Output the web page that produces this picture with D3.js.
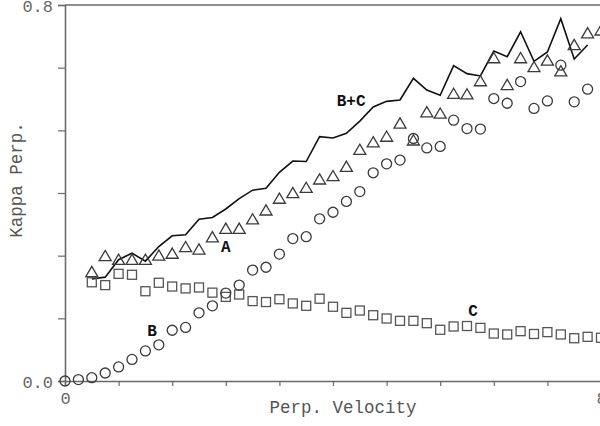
<!DOCTYPE html>
<html>
<head>
<meta charset="utf-8">
<script src="https://cdn.jsdelivr.net/npm/d3@7"></script>
<style>
  html, body { margin: 0; padding: 0; background: #fff; }
  svg { display: block; }
</style>
</head>
<body>
<svg id="chart" width="600" height="426"></svg>
<script>
// Perpendicular velocity samples (step 0.2)
const velocity = [0.0,0.2,0.4,0.6,0.8,1.0,1.2,1.4,1.6,1.8,2.0,2.2,2.4,2.6,2.8,3.0,3.2,3.4,3.6,3.8,
                  4.0,4.2,4.4,4.6,4.8,5.0,5.2,5.4,5.6,5.8,6.0,6.2,6.4,6.6,6.8,7.0,7.2,7.4,7.6,7.8,8.0];

// Series A (triangles)
const seriesA = [null,null,0.233,0.267,0.259,0.259,0.259,0.268,0.272,0.286,0.281,0.307,0.325,0.325,0.345,0.364,0.389,0.401,0.412,0.430,
                 0.437,0.457,0.493,0.509,0.521,0.549,0.513,0.573,0.570,0.612,0.611,0.639,0.688,0.631,0.688,0.669,0.683,0.660,0.716,0.741,0.747];

// Series B (circles)
const seriesB = [0.000,0.003,0.007,0.017,0.030,0.046,0.064,0.077,0.108,0.114,0.145,0.160,0.187,0.204,0.236,0.242,0.270,0.303,0.307,0.345,
                 0.359,0.382,0.403,0.443,0.462,0.470,0.516,0.496,0.499,0.555,0.537,0.536,0.601,0.591,0.637,0.580,0.596,0.672,0.594,0.621,null];

// Series C (squares)
const seriesC = [null,null,0.210,0.204,0.228,0.226,0.191,0.209,0.201,0.197,0.199,0.188,0.179,0.184,0.170,0.168,0.174,0.165,0.160,0.175,
                 0.158,0.145,0.150,0.140,0.133,0.128,0.128,0.123,0.109,0.116,0.117,0.113,0.101,0.099,0.106,0.100,0.104,0.099,0.091,0.094,0.092];

// Series B+C (solid line)
const seriesBC = [null,null,0.217,0.221,0.258,0.272,0.255,0.286,0.309,0.311,0.344,0.348,0.366,0.388,0.406,0.410,0.444,0.468,0.467,0.520,
                  0.517,0.527,0.553,0.583,0.595,0.598,0.644,0.619,0.608,0.671,0.654,0.649,0.702,0.690,0.743,0.680,0.700,0.771,0.685,0.715,null];

// Axis ticks and labels
const xTicks = [0,0.8,1.6,2.4,3.2,4.0,4.8,5.6,6.4,7.2,8.0];
const xTickLabels = ["0","","","","","","","","","","8"];
const yTicks = [0,0.8/6,1.6/6,2.4/6,3.2/6,4.0/6,0.8];
const yTickLabels = ["0.0","","","","","","0.8"];

// Curve labels
const curveLabels = [
  { text: "B+C", x: 4.27, y: 0.594 },
  { text: "A",   x: 2.40, y: 0.284 },
  { text: "B",   x: 1.30, y: 0.105 },
  { text: "C",   x: 6.09, y: 0.146 }
];

const xTitle = "Perp. Velocity";
const yTitle = "Kappa Perp.";

const svg = d3.select("#chart");
const mono = "'Liberation Mono', 'DejaVu Sans Mono', monospace";
const axisColor = "#6a6a6a";
const markColor = "#3a3a3a";

const x = d3.scaleLinear().domain([0, 8]).range([65, 601]);
const y = d3.scaleLinear().domain([0, 0.8]).range([381, 5]);

// Axes
const xAxis = svg.append("g")
  .attr("transform", `translate(0,${y(0)})`)
  .call(d3.axisBottom(x).tickValues(xTicks).tickFormat((d, i) => xTickLabels[i]).tickSizeOuter(0).tickSize(5).tickPadding(6));
const yAxis = svg.append("g")
  .attr("transform", `translate(${x(0)},0)`)
  .call(d3.axisLeft(y).tickValues(yTicks).tickFormat((d, i) => yTickLabels[i]).tickSizeOuter(0).tickSize(7).tickPadding(5));

[xAxis, yAxis].forEach(g => {
  g.selectAll("path.domain").attr("stroke", axisColor).attr("stroke-width", 1.6);
  g.selectAll(".tick line").attr("stroke", axisColor).attr("stroke-width", 1.2);
  g.selectAll(".tick text").attr("fill", "#666").style("font-family", mono).style("font-size", "17px");
});
yAxis.selectAll(".tick text").attr("dy", "0.36em");

// Top frame line
svg.append("line")
  .attr("x1", x(0)).attr("x2", x(8))
  .attr("y1", y(0.8)).attr("y2", y(0.8))
  .attr("stroke", axisColor).attr("stroke-width", 1.6);

// Axis titles
svg.append("text")
  .attr("x", (x(0) + x(8)) / 2 + 10).attr("y", 413)
  .attr("text-anchor", "middle")
  .attr("fill", "#555")
  .style("font-family", mono).style("font-size", "17.5px")
  .text(xTitle);

svg.append("text")
  .attr("transform", `translate(22,${(y(0) + y(0.8)) / 2 - 13}) rotate(-90)`)
  .attr("text-anchor", "middle")
  .attr("fill", "#555")
  .style("font-family", mono).style("font-size", "17.5px")
  .text(yTitle);

const plot = svg.append("g");

// B+C line
const line = d3.line()
  .defined(d => d[1] !== null)
  .x(d => x(d[0]))
  .y(d => y(d[1]));
plot.append("path")
  .datum(velocity.map((v, i) => [v, seriesBC[i]]))
  .attr("d", line)
  .attr("fill", "none")
  .attr("stroke", "#111")
  .attr("stroke-width", 1.6)
  .attr("stroke-linejoin", "miter");

// Triangle symbol centred on its bounding box
const triangleBox = {
  draw(context, size) {
    const w = Math.sqrt(size);
    const h = w * 0.85;
    context.moveTo(0, -h / 2);
    context.lineTo(w / 2, h / 2);
    context.lineTo(-w / 2, h / 2);
    context.closePath();
  }
};

function points(series) {
  return velocity.map((v, i) => ({ x: v, y: series[i] })).filter(d => d.y !== null);
}

// Squares (C)
plot.selectAll("rect.c")
  .data(points(seriesC))
  .join("rect")
  .attr("class", "c")
  .attr("x", d => x(d.x) - 4.5)
  .attr("y", d => y(d.y) - 4.5)
  .attr("width", 9).attr("height", 9)
  .attr("fill", "none")
  .attr("stroke", "#555")
  .attr("stroke-width", 1.3);

// Circles (B)
plot.selectAll("circle.b")
  .data(points(seriesB))
  .join("circle")
  .attr("class", "b")
  .attr("cx", d => x(d.x))
  .attr("cy", d => y(d.y))
  .attr("r", 5)
  .attr("fill", "none")
  .attr("stroke", markColor)
  .attr("stroke-width", 1.3);

// Triangles (A)
plot.selectAll("path.a")
  .data(points(seriesA))
  .join("path")
  .attr("class", "a")
  .attr("transform", d => `translate(${x(d.x)},${y(d.y)})`)
  .attr("d", d3.symbol().type(triangleBox).size(144))
  .attr("fill", "none")
  .attr("stroke", markColor)
  .attr("stroke-width", 1.3);

// Curve labels
plot.selectAll("text.lab")
  .data(curveLabels)
  .join("text")
  .attr("class", "lab")
  .attr("x", d => x(d.x))
  .attr("y", d => y(d.y))
  .attr("text-anchor", "middle")
  .attr("dominant-baseline", "central")
  .attr("fill", "#111")
  .style("font-family", mono)
  .style("font-size", "16px")
  .style("font-weight", "bold")
  .text(d => d.text);
</script>
</body>
</html>
